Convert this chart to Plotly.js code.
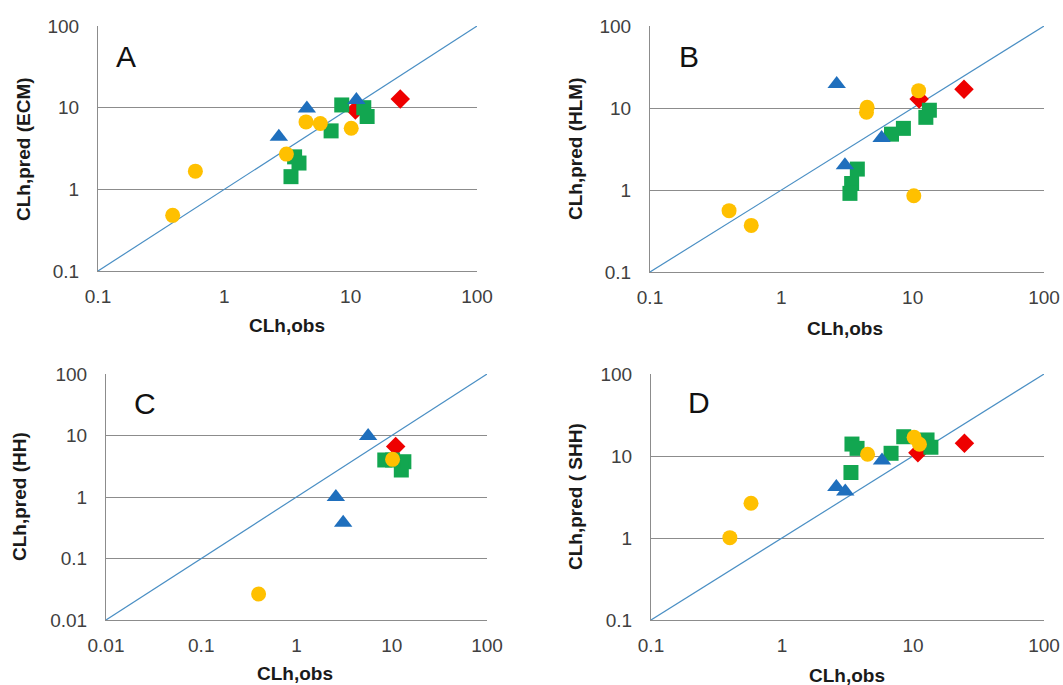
<!DOCTYPE html>
<html>
<head>
<meta charset="utf-8">
<script src="https://cdn.plot.ly/plotly-3.0.1.min.js"></script>
<style>html,body{margin:0;padding:0;background:#fff;}#chart{width:1063px;height:685px;}</style>
</head>
<body>
<div id="chart"></div>
<script>
// ---- Data ----
// Panel A: ECM
const aBlueX = [2.7, 4.5, 11.1];
const aBlueY = [4.4, 9.8, 12.4];
const aGreenX = [8.5, 12.7, 13.5, 7.0, 3.6, 3.9, 3.37];
const aGreenY = [10.8, 10.0, 7.8, 5.2, 2.5, 2.1, 1.43];
const aYellowX = [0.39, 0.59, 3.1, 4.43, 5.75, 10.1];
const aYellowY = [0.48, 1.67, 2.7, 6.7, 6.4, 5.6];
const aRedX = [10.9, 24.7];
const aRedY = [9.4, 12.8];
// Panel B: HLM
const bBlueX = [2.64, 3.05, 5.8];
const bBlueY = [19.6, 2.0, 4.3];
const bGreenX = [13.4, 12.6, 8.5, 6.9, 3.79, 3.43, 3.33];
const bGreenY = [9.4, 7.7, 5.65, 4.8, 1.8, 1.2, 0.91];
const bYellowX = [0.40, 0.59, 4.5, 4.45, 11.1, 10.2];
const bYellowY = [0.56, 0.37, 10.2, 8.9, 16.3, 0.85];
const bRedX = [11.2, 24.6];
const bRedY = [12.9, 16.9];
// Panel C: HH
const cBlueX = [5.65, 2.59, 3.09];
const cBlueY = [9.8, 1.0, 0.38];
const cGreenX = [8.45, 13.4, 12.6, 10.2];
const cGreenY = [4.0, 3.75, 2.75, 4.0];
const cYellowX = [10.2, 0.40];
const cYellowY = [4.1, 0.0265];
const cRedX = [11.0];
const cRedY = [6.6];
// Panel D: SHH
const dBlueX = [2.6, 3.04, 5.8];
const dBlueY = [4.2, 3.7, 8.8];
const dGreenX = [3.42, 3.74, 3.36, 6.8, 8.5, 12.8, 13.7];
const dGreenY = [14.0, 12.4, 6.3, 10.8, 17.2, 15.7, 12.8];
const dYellowX = [0.40, 0.58, 4.5, 10.2, 11.2];
const dYellowY = [1.01, 2.65, 10.5, 16.9, 13.9];
const dRedX = [10.9, 24.7];
const dRedY = [11.0, 14.3];
// Identity lines
const lineAB = [0.1, 100];
const lineC = [0.01, 100];
// Tick labels
const ticks3 = [0.1, 1, 10, 100];
const tickText3 = ['0.1', '1', '10', '100'];
const ticks4 = [0.01, 0.1, 1, 10, 100];
const tickText4 = ['0.01', '0.1', '1', '10', '100'];
// Titles
const panelLetters = ['A', 'B', 'C', 'D'];
const yTitles = ['CLh,pred (ECM)', 'CLh,pred (HLM)', 'CLh,pred (HH)', 'CLh,pred ( SHH)'];
const xTitle = 'CLh,obs';

// ---- Styles ----
const BLUE = '#1f6fbd', GREEN = '#12a650', YELLOW = '#ffc000', RED = '#ee0000';
const LINE = '#4a8fc4', GRID = '#8c8c8c';

function panelTraces(ax, lineXY, blueX, blueY, greenX, greenY, yellowX, yellowY, redX, redY) {
  const xa = 'x' + ax, ya = 'y' + ax;
  return [
    {x: lineXY, y: lineXY, xaxis: xa, yaxis: ya, mode: 'lines', line: {color: LINE, width: 1.2}, hoverinfo: 'skip'},
    {x: redX, y: redY, xaxis: xa, yaxis: ya, mode: 'markers', marker: {symbol: 'diamond', size: 15, color: RED}},
    {x: greenX, y: greenY, xaxis: xa, yaxis: ya, mode: 'markers', marker: {symbol: 'square', size: 15, color: GREEN}},
    {x: blueX, y: blueY, xaxis: xa, yaxis: ya, mode: 'markers', marker: {symbol: 'triangle-up', size: 16, color: BLUE}},
    {x: yellowX, y: yellowY, xaxis: xa, yaxis: ya, mode: 'markers', marker: {symbol: 'circle', size: 15, color: YELLOW}}
  ];
}

const data = [].concat(
  panelTraces('', lineAB, aBlueX, aBlueY, aGreenX, aGreenY, aYellowX, aYellowY, aRedX, aRedY),
  panelTraces('2', lineAB, bBlueX, bBlueY, bGreenX, bGreenY, bYellowX, bYellowY, bRedX, bRedY),
  panelTraces('3', lineC, cBlueX, cBlueY, cGreenX, cGreenY, cYellowX, cYellowY, cRedX, cRedY),
  panelTraces('4', lineAB, dBlueX, dBlueY, dGreenX, dGreenY, dYellowX, dYellowY, dRedX, dRedY)
);

const W = 1063, H = 685;
const px = v => v / W, py = v => 1 - v / H;
const tickFont = {family: 'Liberation Sans, Arial, sans-serif', size: 19, color: '#404040'};

function xAxis(dom, anchor, tv, tt, rng) {
  return {type: 'log', domain: dom, anchor: anchor, range: rng, tickvals: tv, ticktext: tt,
    showgrid: false, zeroline: false, showline: true, linecolor: GRID, linewidth: 1,
    ticks: '', tickfont: tickFont, ticklabelstandoff: 8, fixedrange: true};
}
function yAxis(dom, anchor, tv, tt, rng) {
  return {type: 'log', domain: dom, anchor: anchor, range: rng, tickvals: tv, ticktext: tt,
    showgrid: true, gridcolor: GRID, gridwidth: 1, zeroline: false, showline: true, linecolor: GRID, linewidth: 1,
    ticks: '', tickfont: tickFont, ticklabelstandoff: 14, fixedrange: true};
}

const ann = [];
const titleFont = {family: 'Liberation Sans, Arial, sans-serif', size: 19, color: '#1a1a1a', weight: 'bold'};
const letterFont = {family: 'Liberation Sans, Arial, sans-serif', size: 30, color: '#111111'};
const letterPos = [[126, 57], [689, 57], [145, 403], [699, 402]];
const xTitlePos = [[287, 325], [845, 328], [295, 673], [847, 675]];
const yTitlePos = [[23, 149], [575, 149], [19, 497], [575, 497]];
for (let i = 0; i < 4; i++) {
  ann.push({xref: 'paper', yref: 'paper', x: px(letterPos[i][0]), y: py(letterPos[i][1]), text: panelLetters[i],
    showarrow: false, xanchor: 'center', yanchor: 'middle', font: letterFont});
  ann.push({xref: 'paper', yref: 'paper', x: px(xTitlePos[i][0]), y: py(xTitlePos[i][1]), text: '<b>' + xTitle + '</b>',
    showarrow: false, xanchor: 'center', yanchor: 'middle', font: titleFont});
  ann.push({xref: 'paper', yref: 'paper', x: px(yTitlePos[i][0]), y: py(yTitlePos[i][1]), text: '<b>' + yTitles[i] + '</b>',
    showarrow: false, xanchor: 'center', yanchor: 'middle', textangle: -90, font: titleFont});
}

const layout = {
  width: W, height: H,
  margin: {l: 0, r: 0, t: 0, b: 0},
  paper_bgcolor: '#ffffff', plot_bgcolor: 'rgba(0,0,0,0)',
  showlegend: false,
  xaxis: xAxis([px(98), px(477)], 'y', ticks3, tickText3, [-1, 2]),
  yaxis: yAxis([py(271), py(26)], 'x', ticks3, tickText3, [-1, 2.0005]),
  xaxis2: xAxis([px(650), px(1044)], 'y2', ticks3, tickText3, [-1, 2]),
  yaxis2: yAxis([py(272), py(26)], 'x2', ticks3, tickText3, [-1, 2.0005]),
  xaxis3: xAxis([px(106), px(487)], 'y3', ticks4, tickText4, [-2, 2]),
  yaxis3: yAxis([py(620), py(374)], 'x3', ticks4, tickText4, [-2, 2.0005]),
  xaxis4: xAxis([px(651), px(1044)], 'y4', ticks3, tickText3, [-1, 2]),
  yaxis4: yAxis([py(620), py(374)], 'x4', ticks3, tickText3, [-1, 2.0005]),
  annotations: ann
};

Plotly.newPlot('chart', data, layout, {displayModeBar: false, staticPlot: true});
</script>
</body>
</html>
